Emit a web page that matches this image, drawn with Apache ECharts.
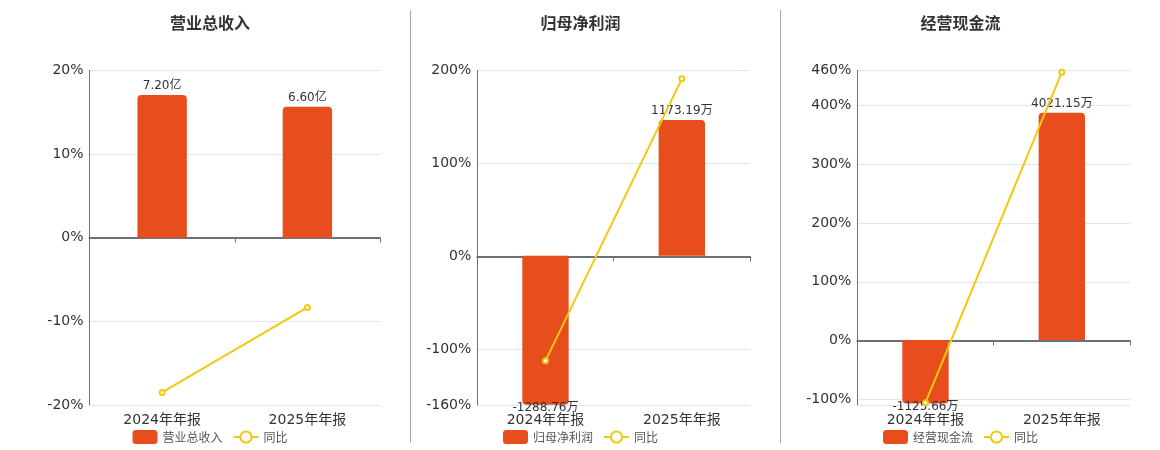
<!DOCTYPE html>
<html lang="zh">
<head>
    <meta charset="UTF-8">
    <title>营业总收入 / 归母净利润 / 经营现金流</title>
    <script src="https://cdn.jsdelivr.net/npm/echarts@6/dist/echarts.min.js"></script>
    <style>
        body{margin:0;background:#fff;}
        .box{position:absolute;top:0;height:450px;}
        .sep{position:absolute;top:10px;height:433px;width:1px;background:#aaa;z-index:5;}
    </style>
</head>
<body>
<div id="c1" class="box" style="left:20px;width:380px"></div>
<div id="c2" class="box" style="left:410px;width:341px"></div>
<div id="c3" class="box" style="left:781px;width:359px"></div>
<div class="sep" style="left:410px"></div>
<div class="sep" style="left:780px"></div>
<script type="text/javascript">
    // 报告期
    var categories = ['2024年年报', '2025年年报'];

    // 营业总收入（亿）及同比（%）
    var revenue = [7.20, 6.60];
    var revenueYoy = [-18.5, -8.33];

    // 归母净利润（万）及同比（%）
    var netProfit = [-1288.76, 1173.19];
    var netProfitYoy = [-112.5, 191.03];

    // 经营现金流（万）及同比（%）
    var cashFlow = [-1125.66, 4021.15];
    var cashFlowYoy = [-106, 457.22];

    // 左轴刻度
    var revenueTicks = [-20, -10, 0, 10, 20];
    var netProfitTicks = [-160, -100, 0, 100, 200];
    var cashFlowTicks = [-110, -100, 0, 100, 200, 300, 400, 460];
    var cashFlowLabels = [-100, 0, 100, 200, 300, 400, 460];

    var barColor = '#E84D1D';
    var lineColor = '#F2C80F';
    var axisColor = '#6E7079';
    var font = '"DejaVu Sans", "Noto Sans CJK SC", sans-serif';

    function getOption(cfg) {
        var barData = cfg.bars.map(function (v) {
            return {
                value: v,
                itemStyle: {borderRadius: v < 0 ? [0, 0, 4, 4] : [4, 4, 0, 0]},
                label: v < 0 ? {position: 'bottom', distance: -3} : {position: 'top', distance: 3}
            };
        });
        return {
            animation: false,
            textStyle: {fontFamily: font},
            title: {
                text: cfg.title, left: 'center', top: 10,
                textStyle: {fontSize: 16, fontWeight: 'bold', color: '#333', fontFamily: '"Noto Sans CJK SC", sans-serif'}
            },
            legend: {
                left: 'center', top: 425, itemWidth: 25, itemHeight: 14, itemGap: 10,
                textStyle: {fontSize: 12, color: '#555', fontFamily: '"Noto Sans CJK SC", sans-serif'},
                data: [cfg.name, '同比']
            },
            grid: {
                left: cfg.left, right: cfg.right, top: 70.5, bottom: 45,
                containLabel: false, outerBoundsMode: 'none'
            },
            xAxis: [{
                type: 'category', data: categories, position: 'bottom',
                axisLine: {show: true, onZero: true, onZeroAxisIndex: 0, lineStyle: {color: axisColor, width: 2}},
                axisTick: {show: true, length: 5, lineStyle: {color: axisColor}},
                axisLabel: {show: false},
                splitLine: {show: false}
            }, {
                type: 'category', data: categories, position: 'bottom',
                axisLine: {show: false, onZero: false},
                axisTick: {show: false},
                axisLabel: {show: true, fontSize: 14, color: '#333', margin: 8, fontFamily: font},
                splitLine: {show: false}
            }],
            yAxis: [{
                type: 'value', min: cfg.ticks[0], max: cfg.ticks[cfg.ticks.length - 1],
                axisLine: {show: true, lineStyle: {color: axisColor, width: 1}},
                axisTick: {show: false, customValues: cfg.ticks},
                axisLabel: {
                    formatter: '{value}%', fontSize: 14, color: '#333', margin: 6, fontFamily: font,
                    customValues: cfg.labels || cfg.ticks
                },
                splitLine: {show: true, lineStyle: {color: '#E0E6F1'}}
            }, {
                type: 'value', min: cfg.barMin, max: cfg.barMax, show: false,
                splitLine: {show: false}
            }],
            series: [{
                name: cfg.name, type: 'bar', xAxisIndex: 0, yAxisIndex: 1,
                barWidth: '34%', data: barData,
                itemStyle: {color: barColor},
                label: {
                    show: true, fontSize: 12, color: '#333', fontFamily: font,
                    formatter: function (p) { return p.value.toFixed(2) + cfg.unit; }
                }
            }, {
                name: '同比', type: 'line', xAxisIndex: 0, yAxisIndex: 0,
                data: cfg.yoy, symbol: 'emptyCircle', symbolSize: 5,
                itemStyle: {color: lineColor},
                lineStyle: {color: lineColor, width: 2}
            }]
        };
    }

    echarts.init(document.getElementById('c1')).setOption(getOption({
        title: '营业总收入', name: '营业总收入', unit: '亿',
        bars: revenue, yoy: revenueYoy, ticks: revenueTicks,
        barMin: -8.43, barMax: 8.43, left: 69.5, right: 20
    }));
    echarts.init(document.getElementById('c2')).setOption(getOption({
        title: '归母净利润', name: '归母净利润', unit: '万',
        bars: netProfit, yoy: netProfitYoy, ticks: netProfitTicks,
        barMin: -1290, barMax: 1600, left: 67.3, right: 1
    }));
    echarts.init(document.getElementById('c3')).setOption(getOption({
        title: '经营现金流', name: '经营现金流', unit: '万',
        bars: cashFlow, yoy: cashFlowYoy, ticks: cashFlowTicks, labels: cashFlowLabels,
        barMin: -1150, barMax: 4770, left: 76.3, right: 10
    }));
</script>
</body>
</html>
